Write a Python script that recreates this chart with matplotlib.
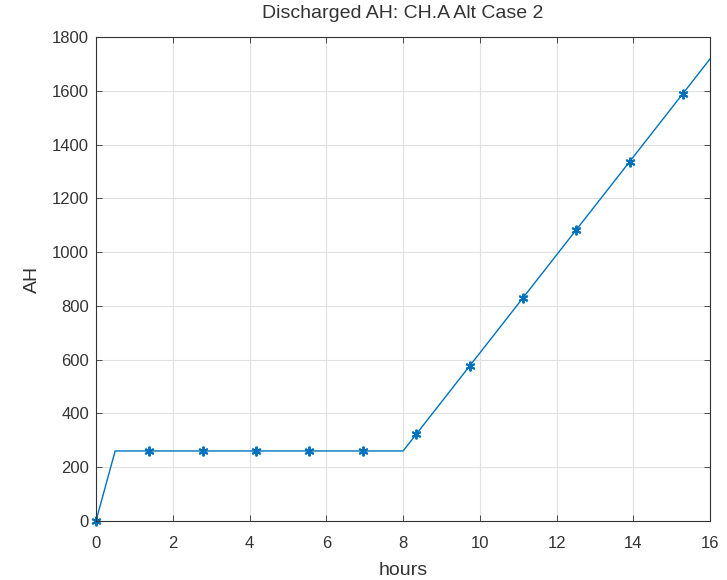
"""Discharged AH vs hours, MATLAB-style line with asterisk markers"""
import matplotlib
matplotlib.use("Agg")
import matplotlib.pyplot as plt

plt.rcParams['font.family'] = ['Liberation Sans', 'DejaVu Sans']

# line vertices
line_hours = [0, 0.5, 8, 16]
line_ah = [0, 260, 260, 1720]

# marker samples
marker_hours = [0, 1.39, 2.78, 4.17, 5.56, 6.95, 8.34, 9.73, 11.12, 12.51, 13.9, 15.29]
marker_ah = [0, 260, 260, 260, 260, 260, 322, 576, 829, 1083, 1337, 1590]

xticks = [0, 2, 4, 6, 8, 10, 12, 14, 16]
yticks = [0, 200, 400, 600, 800, 1000, 1200, 1400, 1600, 1800]

blue = "#0072BD"
txt = "#333333"

fig = plt.figure(figsize=(7.27, 5.8), dpi=100)
ax = fig.add_axes([0.132, 0.102, 0.845, 0.834])

ax.plot(line_hours, line_ah, '-', color=blue, linewidth=1.0)
ax.plot(marker_hours, marker_ah, linestyle='none', marker=(6, 2, 0),
        markersize=7, markeredgewidth=1.4, color=blue, clip_on=False)

ax.set_xlim(0, 16)
ax.set_ylim(0, 1800)
ax.set_xticks(xticks)
ax.set_yticks(yticks)
ax.grid(True, color="#e0e0e0", linewidth=0.8)
ax.set_axisbelow(True)
ax.tick_params(direction='in', top=True, right=True, length=4,
               labelsize=12, colors=txt, width=0.6, pad=5)
ax.tick_params(axis='x', pad=11)
for s in ax.spines.values():
    s.set_color(txt)
    s.set_linewidth(0.8)

ax.set_xlabel("hours", fontsize=14, color=txt, labelpad=8)
ax.set_ylabel("AH", fontsize=14, color=txt, labelpad=8)
ax.set_title("Discharged AH: CH.A Alt Case 2", fontsize=14, color=txt, pad=14)

plt.savefig("out.png", dpi=100)
